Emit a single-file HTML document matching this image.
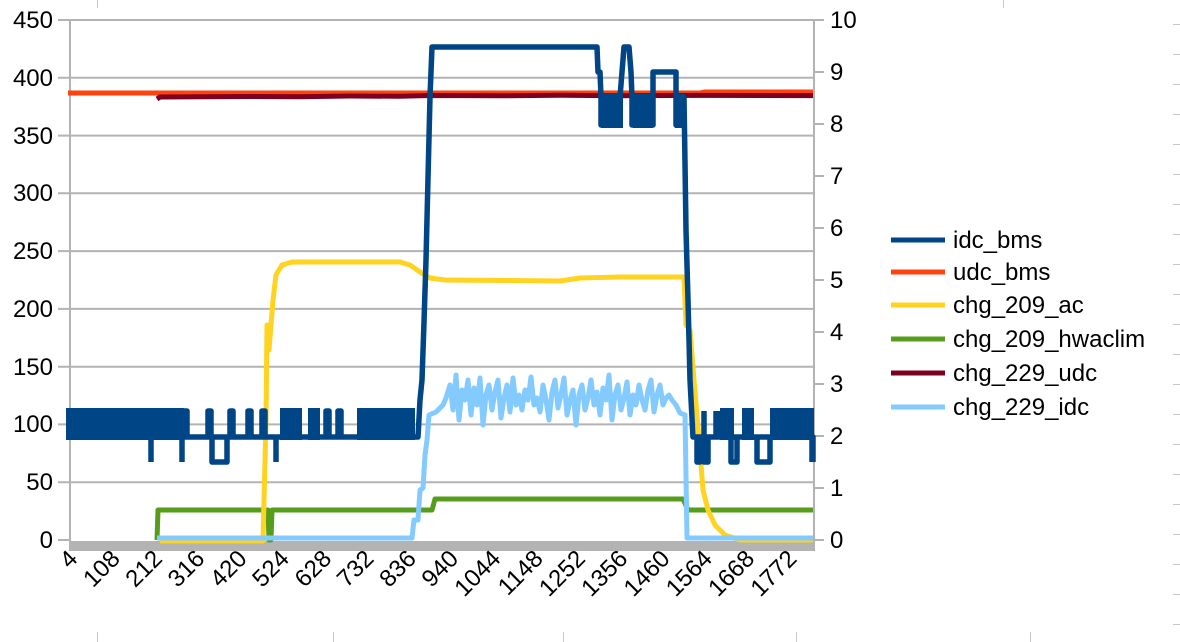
<!DOCTYPE html>
<html><head><meta charset="utf-8"><style>
html,body{margin:0;padding:0;background:#fff;}
svg{display:block;font-family:"Liberation Sans",sans-serif;}
</style></head><body>
<svg width="1180" height="642" viewBox="0 0 1180 642" xmlns="http://www.w3.org/2000/svg">
<g stroke="#c8c8c8" stroke-width="1">
<line x1="97.5" y1="0" x2="97.5" y2="8"/><line x1="1003.5" y1="0" x2="1003.5" y2="8"/>
<line x1="97.5" y1="632" x2="97.5" y2="642"/><line x1="333.5" y1="632" x2="333.5" y2="642"/>
<line x1="563.5" y1="632" x2="563.5" y2="642"/><line x1="796.5" y1="632" x2="796.5" y2="642"/><line x1="1030.5" y1="632" x2="1030.5" y2="642"/>
<path d="M1173 24.5h7M1173 54.5h7M1173 84.5h7M1173 114.5h7M1173 144.5h7M1173 174.5h7M1173 204.5h7M1173 234.5h7M1173 264.5h7M1173 294.5h7M1173 324.5h7M1173 354.5h7M1173 384.5h7M1173 414.5h7M1173 444.5h7M1173 474.5h7M1173 504.5h7M1173 534.5h7M1173 564.5h7M1173 594.5h7M1173 624.5h7"/>
</g>
<g stroke="#b3b3b3" stroke-width="2">
<path d="M58 20H814M58 77.8H814M58 135.6H814M58 193.3H814M58 251.1H814M58 308.9H814M58 366.7H814M58 424.4H814M58 482.2H814M58 540H70"/>
<path d="M814 20h10M814 72h10M814 124h10M814 176h10M814 228h10M814 280h10M814 332h10M814 384h10M814 436h10M814 488h10M814 540h10"/>
<line x1="70" y1="19" x2="70" y2="551"/>
<line x1="814" y1="19" x2="814" y2="551"/>
</g>
<rect x="70" y="541" width="744" height="10" fill="#b3b3b3"/>
<g font-size="24" fill="#000" text-anchor="end">
<text x="53" y="28">450</text><text x="53" y="86">400</text><text x="53" y="144">350</text><text x="53" y="201">300</text><text x="53" y="259">250</text><text x="53" y="317">200</text><text x="53" y="375">150</text><text x="53" y="432">100</text><text x="53" y="490">50</text><text x="53" y="548">0</text>
</g>
<g font-size="24" fill="#000">
<text x="830" y="28">10</text><text x="830" y="80">9</text><text x="830" y="132">8</text><text x="830" y="184">7</text><text x="830" y="236">6</text><text x="830" y="288">5</text><text x="830" y="340">4</text><text x="830" y="392">3</text><text x="830" y="444">2</text><text x="830" y="496">1</text><text x="830" y="548">0</text>
</g>
<g font-size="24" fill="#000" text-anchor="end">
<text transform="translate(79,560) rotate(-45)">4</text>
<text transform="translate(121.3,560) rotate(-45)">108</text>
<text transform="translate(163.6,560) rotate(-45)">212</text>
<text transform="translate(205.9,560) rotate(-45)">316</text>
<text transform="translate(248.2,560) rotate(-45)">420</text>
<text transform="translate(290.5,560) rotate(-45)">524</text>
<text transform="translate(332.8,560) rotate(-45)">628</text>
<text transform="translate(375.1,560) rotate(-45)">732</text>
<text transform="translate(417.4,560) rotate(-45)">836</text>
<text transform="translate(459.7,560) rotate(-45)">940</text>
<text transform="translate(502,560) rotate(-45)">1044</text>
<text transform="translate(544.3,560) rotate(-45)">1148</text>
<text transform="translate(586.6,560) rotate(-45)">1252</text>
<text transform="translate(628.9,560) rotate(-45)">1356</text>
<text transform="translate(671.2,560) rotate(-45)">1460</text>
<text transform="translate(713.5,560) rotate(-45)">1564</text>
<text transform="translate(755.8,560) rotate(-45)">1668</text>
<text transform="translate(798.1,560) rotate(-45)">1772</text>
</g>
<g fill="none" stroke-linejoin="round">
<path d="M68 93H700L705 92H813" stroke="#ff420e" stroke-width="5"/>
<path d="M157 99L160 97L250 96.5L300 96.8L350 96L400 96.3L430 95.5L500 95.8L560 95.3L620 95.7L700 95.4L813 95.6" stroke="#7e0021" stroke-width="5"/>
<path d="M157 540L158 510H268L269 540H271L272 510H432L435 499H683L688 510H813" stroke="#579d1c" stroke-width="5"/>
<path d="M160 541H263L266 420L267 325L269 350L271 325L273 300L276 275L282 265L292 262H400L410 265L420 272L430 278L445 280L560 281L580 278L620 277H684L686 325L690 330L694 380L699 440L703 490L708 510L715 525L725 535L740 540H813" stroke="#ffd320" stroke-width="5"/>
<path d="M157 538H412L414 520H418L420 490L423 488L425 455L427 440L429 415L436 412L443 405L446 398L450 385L453 410L456 375L459 420L462 390L465 400L468 380L471 415L474 388L477 405L480 378L483 425L486 395L489 385L492 410L495 392L498 380L501 418L504 398L507 385L510 412L513 378L516 405L519 395L522 410L525 390L528 400L531 377L534 405L537 398L540 412L543 385L546 400L549 420L552 392L555 380L558 408L561 395L564 378L567 415L570 400L573 390L576 425L579 395L582 385L585 410L588 398L591 380L594 405L597 392L600 415L603 388L606 400L609 375L612 420L615 395L618 385L621 410L624 398L627 382L630 415L633 395L636 405L639 385L642 400L645 410L648 390L651 380L654 412L657 395L660 385L663 405L666 398L669 395L672 400L676 405L680 413L685 415L687 538H813" stroke="#83caff" stroke-width="5"/>
<g stroke="#004586" stroke-width="5.5">
<path d="M68 437H418L420 400L422 380L424 322L426 260L428 178L430 97L432 47H597L598 72H600L601 97V125H604V97H609V125H612V97H616V125H620V97L622 72L624 47H629L631 72L632 97V125H635V97H637V125H653V97V72H676V97V125H680V97H684L686 230L688 300L690 380L693 437H813V462"/>
<path d="M184 437V411H187V437M208 437V411H211V437M230 437V411H233V437M248 437V411H251V437M262 437V411H265V437M338 437V411H341V437M326 437V411H329V437"/>
<path d="M151 437V462M182 437V462M276 437V462M212 437V462H227V437M697 437V462H700V437M704 437V462H708V437M731 437V462H737V437M757 437V462H770V437M812 437V462"/>
<path d="M704 437V411M716 437V411M720 437V411"/>
</g>
<g fill="#004586">
<rect x="66" y="408" width="118" height="32"/>
<rect x="280" y="408" width="22" height="32"/>
<rect x="308" y="408" width="12" height="32"/>
<rect x="357" y="408" width="58" height="32"/>
<rect x="720" y="408" width="14" height="32"/>
<rect x="742" y="408" width="12" height="32"/>
<rect x="770" y="408" width="44" height="32"/>
<rect x="601" y="94" width="22" height="34"/>
<rect x="633" y="94" width="20" height="34"/>
<rect x="675" y="94" width="10" height="34"/>
</g>
</g>
<g font-size="24" fill="#000">
<line x1="891" y1="240" x2="945" y2="240" stroke="#004586" stroke-width="5"/><text x="953" y="248">idc_bms</text>
<line x1="891" y1="272" x2="945" y2="272" stroke="#ff420e" stroke-width="5"/><text x="953" y="280">udc_bms</text>
<line x1="891" y1="305" x2="945" y2="305" stroke="#ffd320" stroke-width="5"/><text x="953" y="313">chg_209_ac</text>
<line x1="891" y1="339" x2="945" y2="339" stroke="#579d1c" stroke-width="5"/><text x="953" y="347">chg_209_hwaclim</text>
<line x1="891" y1="373" x2="945" y2="373" stroke="#7e0021" stroke-width="5"/><text x="953" y="381">chg_229_udc</text>
<line x1="891" y1="407" x2="945" y2="407" stroke="#83caff" stroke-width="5"/><text x="953" y="415">chg_229_idc</text>
</g>
</svg>
</body></html>
